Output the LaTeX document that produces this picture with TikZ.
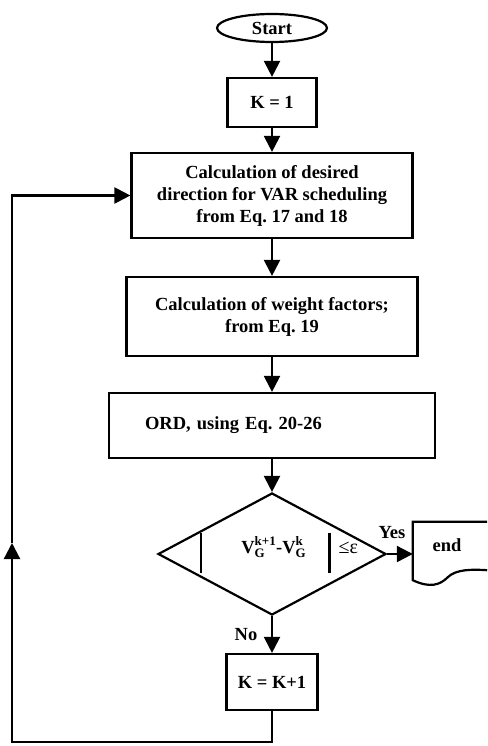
\documentclass[tikz,border=0pt]{standalone}
\usepackage{amsmath}
\usepackage{fontspec}
\setmainfont{Liberation Serif}
\usetikzlibrary{shapes.geometric, arrows.meta, calc}
\frenchspacing

\begin{document}
\begin{tikzpicture}[x=1pt, y=-1pt, >={Triangle[length=16pt, width=16pt]},
    every node/.style={font=\fontsize{18.5}{22}\selectfont\bfseries, inner sep=0pt},
    procbox/.style={draw, line width=2.2pt, align=center},
    flowline/.style={line width=2.2pt}]
  \useasboundingbox (0,0) rectangle (487,746);

  % Start and counter
  \node[draw, ellipse, line width=2.2pt, minimum width=110pt, minimum height=28pt] (start) at (272,28) {Start};
  \node[procbox, minimum width=89pt, minimum height=49pt] (init) at (272,102.5) {K = 1};

  % Process steps
  \node[procbox, minimum width=281pt, minimum height=85pt] (desire) at (272,195.5) {Calculation of desired\\direction for VAR scheduling\\from Eq. 17 and 18};
  \node[procbox, minimum width=291pt, minimum height=79pt] (weight) at (272,316.5) {Calculation of weight factors;\\from Eq. 19};
  \node[procbox, align=left, inner xsep=36pt, text width=254pt, minimum height=65pt] (ord) at (272,425.5) {ORD, using Eq. 20-26};

  % Convergence test
  \node[draw, diamond, line width=2.2pt, minimum width=228pt, minimum height=122pt] (check) at (272,554) {};
  \node (cond) at (279,553) {\rule[-20pt]{2.2pt}{40pt}\hspace{39pt}$\text{V}_{\text{G}}^{\text{k+1}}$-$\text{V}_{\text{G}}^{\text{k}}$\hspace{22pt}\rule[-20pt]{2.2pt}{40pt}\hspace{8pt}{\mdseries\fontsize{20}{22}\selectfont ≤ε}};
  \node (yes) at (392,533) {Yes};
  \node (no) at (246,635) {No};

  % End document
  \node[minimum width=74pt, minimum height=58pt] (stop) at (450,551) {};
  \node (stoptext) at (447,545) {end};
  \draw[flowline] (stop.north east) -- (stop.north west) -- (stop.south west)
    .. controls +(17,8) and +(-8,8) .. ($(stop.south west)+(35,-3)$)
    .. controls +(8,-8) and +(-15,-1) .. ($(stop.south east)+(0,-10)$);

  % Counter update
  \node[procbox, minimum width=91pt, minimum height=56pt] (inc) at (272,682) {K = K+1};

  % Flow arrows
  \draw[flowline, ->] (start.south) -- (init.north);
  \draw[flowline, ->] (init.south) -- (desire.north);
  \draw[flowline, ->] (desire.south) -- (weight.north);
  \draw[flowline, ->] (weight.south) -- (ord.north);
  \draw[flowline, ->] (ord.south) -- (check.north);
  \draw[flowline, ->] (check.east) -- (check.east -| stop.west);
  \draw[flowline, ->] (check.south) -- (inc.north);

  % Loop back
  \coordinate (loopcorner) at (12,742);
  \coordinate (loopmid) at (12,543);
  \draw[flowline, ->] (inc.south) |- (loopcorner) -- (loopmid);
  \draw[flowline, ->] (loopmid) |- (desire.west);
\end{tikzpicture}
\end{document}
